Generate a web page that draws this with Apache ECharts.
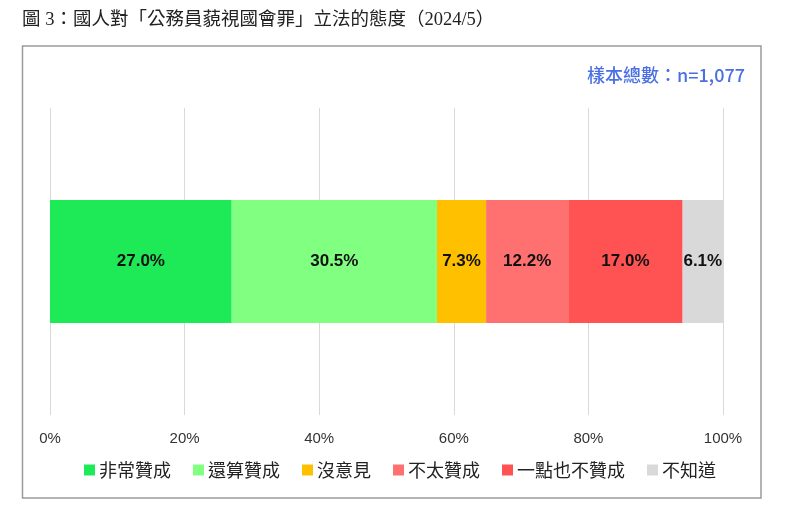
<!DOCTYPE html>
<html><head><meta charset="utf-8">
<script src="https://cdn.jsdelivr.net/npm/echarts@6/dist/echarts.min.js"></script>
<style>html,body{margin:0;padding:0;background:#fff}#c{width:800px;height:517px}</style>
</head><body><div id="c"></div>
<script>
const categories = ['國人態度'];
const seriesNames = ['非常贊成', '還算贊成', '沒意見', '不太贊成', '一點也不贊成', '不知道'];
const seriesValues = [27.0, 30.5, 7.3, 12.2, 17.0, 6.1];
const seriesColors = ['#1EEA58', '#80FF80', '#FFC000', '#FF7070', '#FF5252', '#D9D9D9'];
const tickValues = [0, 20, 40, 60, 80, 100];

const chart = echarts.init(document.getElementById('c'));
chart.setOption({
  animation: false,
  backgroundColor: '#fff',
  graphic: [
    { type: 'rect', shape: { x: 22.5, y: 46, width: 738.5, height: 452 }, style: { fill: 'none', stroke: '#9a9a9a', lineWidth: 1.5 }, z: -1 },
    { type: 'text', left: 22, top: 11, style: { text: '圖 3：國人對「公務員藐視國會罪」立法的態度（2024/5）', font: '18.5px "Liberation Serif", "Noto Sans CJK TC"', fill: '#222' } },
    { type: 'text', right: 55, top: 66, style: { text: '樣本總數：n=1,077', font: '500 18px "Noto Sans CJK TC", "Noto Sans"', fill: '#4A6FE3', textAlign: 'right' } }
  ],
  grid: { left: 50, right: 77, top: 108, bottom: 102 },
  xAxis: {
    type: 'value', min: 0, max: 100, interval: 20,
    axisLine: { show: false }, axisTick: { show: false },
    splitLine: { lineStyle: { color: '#d9d9d9', width: 1 } },
    axisLabel: { formatter: v => v + '%', color: '#333', fontSize: 15, fontFamily: 'Liberation Sans, Arial', margin: 16 }
  },
  yAxis: { type: 'category', data: categories, show: false },
  legend: {
    bottom: 33, left: 'center', itemWidth: 11, itemHeight: 11, itemGap: 22,
    icon: 'rect',
    textStyle: { fontSize: 18, color: '#222', fontFamily: 'Noto Sans CJK TC', padding: [0, 0, 0, -1] },
    data: seriesNames
  },
  series: seriesNames.map((name, i) => ({
    name, type: 'bar', stack: 'all',
    data: [seriesValues[i]],
    barWidth: '40%',
    itemStyle: { color: seriesColors[i] },
    label: {
      show: true, position: 'inside', formatter: p => p.value.toFixed(1) + '%',
      color: '#111', fontSize: 17, fontWeight: 'bold', fontFamily: 'Liberation Sans, Arial'
    }
  }))
});
</script></body></html>
